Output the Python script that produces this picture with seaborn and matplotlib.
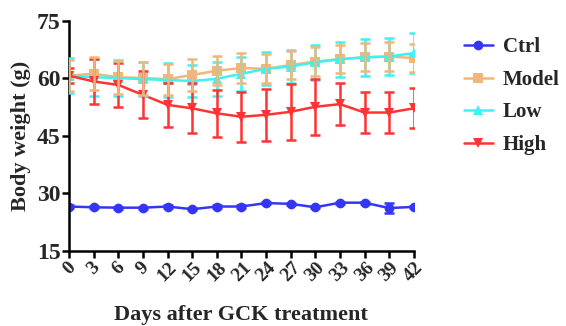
import matplotlib
matplotlib.use("Agg")
import matplotlib.pyplot as plt
import seaborn as sns
import numpy as np
import pandas as pd

days = [0, 3, 6, 9, 12, 15, 18, 21, 24, 27, 30, 33, 36, 39, 42]
ctrl = [26.6, 26.4, 26.3, 26.3, 26.6, 25.9, 26.6, 26.6, 27.5, 27.3, 26.4, 27.6, 27.6, 26.2, 26.5]
ctrl_err = [0.3, 0.3, 0.3, 0.3, 0.3, 0.3, 0.3, 0.3, 0.3, 0.3, 0.3, 0.3, 0.3, 1.2, 0.3]
model = [60.7, 61.2, 60.3, 60.1, 59.8, 60.9, 62.0, 62.7, 62.5, 63.5, 64.4, 65.0, 65.5, 65.7, 65.3]
model_err = [4.0, 4.3, 4.3, 4.3, 4.0, 4.2, 3.8, 3.9, 3.8, 3.6, 3.8, 3.7, 3.7, 3.8, 3.7]
low = [60.7, 60.3, 60.1, 59.8, 59.6, 59.3, 59.9, 61.2, 62.5, 63.1, 64.2, 65.0, 65.5, 65.7, 66.6]
low_err = [4.6, 4.8, 4.6, 4.5, 4.4, 4.2, 4.5, 4.5, 4.3, 4.4, 4.5, 4.6, 4.8, 4.8, 5.2]
high = [60.7, 59.2, 58.3, 55.7, 53.1, 52.2, 50.9, 50.0, 50.5, 51.3, 52.6, 53.3, 51.1, 51.1, 52.2]
high_err = [2.0, 5.8, 5.7, 6.1, 5.7, 6.5, 6.1, 6.5, 6.7, 7.3, 7.3, 5.5, 5.4, 5.4, 5.2]

groups = ["Ctrl", "Model", "Low", "High"]
colors = {"Ctrl": "#3535F5", "Model": "#F0B67A", "Low": "#3CF2F2", "High": "#FF3333"}
markers = {"Ctrl": "o", "Model": "s", "Low": "^", "High": "v"}

series = {"Ctrl": (ctrl, ctrl_err), "Model": (model, model_err),
          "Low": (low, low_err), "High": (high, high_err)}

rows = []
for g in groups:
    vals, errs = series[g]
    for d, v, e in zip(days, vals, errs):
        rows.append({"day": d, "weight": v, "err": e, "group": g})
df = pd.DataFrame(rows)

sns.set_theme(style="ticks")
plt.rcParams["font.family"] = ["Liberation Serif", "DejaVu Serif"]
plt.rcParams["font.weight"] = "bold"

fig = plt.figure(figsize=(5.66, 3.26), dpi=100)
ax = fig.add_axes([0.122, 0.23, 0.609, 0.706])

draw_order = ["Ctrl", "Low", "High", "Model"]
for g in draw_order:
    sub = df[df["group"] == g]
    ax.errorbar(sub["day"], sub["weight"], yerr=sub["err"], fmt="none",
                ecolor=colors[g], elinewidth=1.8, capsize=3.5, capthick=1.8,
                zorder=2 + draw_order.index(g))

sns.lineplot(data=df, x="day", y="weight", hue="group", style="group",
             hue_order=groups, style_order=groups,
             palette=colors, markers=markers, dashes=False,
             markersize=7, markeredgewidth=0, linewidth=1.8, ax=ax, legend=True)

ax.set_xlim(0, 42)
ax.set_ylim(15, 75)
ax.set_xticks(days)
ax.set_xticklabels([str(d) for d in days], rotation=45, fontsize=14, fontweight="bold",
                   ha="center", va="top")
ax.set_yticks([15, 30, 45, 60, 75])
ax.set_yticklabels(["15", "30", "45", "60", "75"], fontsize=17, fontweight="bold")
ax.set_xlabel("Days after GCK treatment", fontsize=16, fontweight="bold", labelpad=14)
ax.set_ylabel("Body weight (g)", fontsize=16, fontweight="bold", labelpad=4)
ax.spines["top"].set_visible(False)
ax.spines["right"].set_visible(False)
for s in ["left", "bottom"]:
    ax.spines[s].set_linewidth(1.8)
    ax.spines[s].set_color("black")
ax.tick_params(axis="both", width=1.8, length=5, color="black", pad=1)

handles, labels = ax.get_legend_handles_labels()
leg = ax.legend(handles, labels, loc="upper left", bbox_to_anchor=(1.09, 1.01),
                frameon=False, prop={"size": 15, "weight": "bold"},
                labelspacing=0.6, handlelength=1.4, handletextpad=0.5)

fig.savefig("out.png", dpi=100)
